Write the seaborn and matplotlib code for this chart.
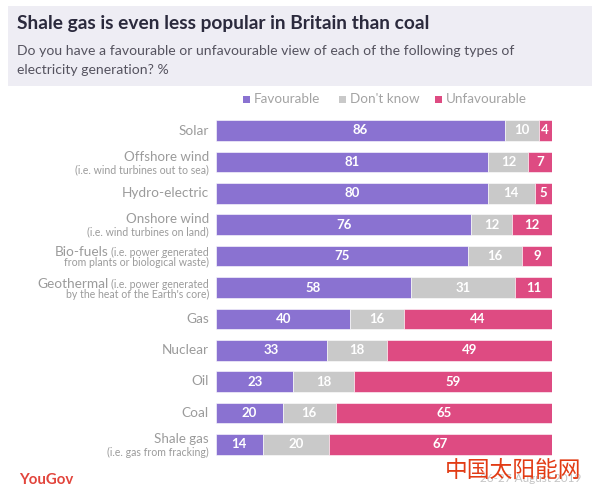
import numpy as np
import pandas as pd
import seaborn as sns
import matplotlib.pyplot as plt
from matplotlib.patches import Rectangle

types = ['Solar', 'Offshore wind', 'Hydro-electric', 'Onshore wind', 'Bio-fuels', 'Geothermal',
         'Gas', 'Nuclear', 'Oil', 'Coal', 'Shale gas']
favourable = [86, 81, 80, 76, 75, 58, 40, 33, 23, 20, 14]
dont_know = [10, 12, 14, 12, 16, 31, 16, 18, 18, 16, 20]
unfavourable = [4, 7, 5, 12, 9, 11, 44, 49, 59, 65, 67]

series_names = ['Favourable', "Don't know", 'Unfavourable']
series_colors = ['#8a72d1', '#c9c9c9', '#de4b82']

title = 'Shale gas is even less popular in Britain than coal'
subtitle = ['Do you have a favourable or unfavourable view of each of the following types of',
            'electricity generation? %']

sns.set_theme(style='white')
plt.rcParams['font.family'] = ['Lato', 'DejaVu Sans']

W, H = 600, 501
fig = plt.figure(figsize=(6, 5.01), dpi=100)
ax = fig.add_axes([216 / W, 1 - 460.2 / H, 336 / W, 345.4 / H])


def px(x, y):
    return x / W, 1 - y / H


df = pd.DataFrame({'type': types, 'Favourable': favourable, "Don't know": dont_know, 'Unfavourable': unfavourable})
# rounded figures do not always add to 100, bars still fill the width
totals = df[series_names].sum(axis=1)
left = np.zeros(len(df))
for name, col in zip(series_names, series_colors):
    share = df[name] / totals * 100
    sns.barplot(x=share.values, y=df['type'], color=col, saturation=1, width=0.65,
                left=left, orient='h', ax=ax, edgecolor='white', linewidth=0.4)
    ax.bar_label(ax.containers[-1], labels=[str(v) for v in df[name]], label_type='center',
                 color='white', fontweight='bold', fontsize=9.5)
    left = left + share.values

ax.set_xlim(0, 100)
ax.set_xlabel('')
ax.set_ylabel('')
ax.set_yticklabels([])
ax.tick_params(left=False, bottom=False, labelbottom=False)
sns.despine(ax=ax, left=True, bottom=True)

# header
x0, y0 = px(8, 86)
fig.add_artist(Rectangle((x0, y0), 584 / W, 80 / H, transform=fig.transFigure, color='#eeedf4', lw=0, zorder=-1))
fig.text(*px(17, 24), title, fontsize=13.8, fontweight='bold', color='#2b2a3d', va='center')
fig.text(*px(17, 51), subtitle[0], fontsize=10.05, color='#55535f', va='center')
fig.text(*px(17, 70), subtitle[1], fontsize=10.05, color='#55535f', va='center')

# legend
for x_sq, x_txt, name, col in zip([243, 339, 435], [254, 350, 446], series_names, series_colors):
    sx, sy = px(x_sq, 103)
    fig.add_artist(Rectangle((sx, sy), 7 / W, 7 / H, transform=fig.transFigure, color=col, lw=0))
    fig.text(*px(x_txt, 99), name, fontsize=9.7, color='#a3a3a3', va='center')

# row labels
label_col = '#9b9b9b'
for name, y in zip(['Solar', 'Hydro-electric', 'Gas', 'Nuclear', 'Oil', 'Coal'], [131, 193, 319, 350, 381, 413]):
    fig.text(*px(209, y), name, fontsize=9.8, color=label_col, ha='right', va='center')
for name, sub, y in [('Offshore wind', '(i.e. wind turbines out to sea)', 157),
                     ('Onshore wind', '(i.e. wind turbines on land)', 219),
                     ('Shale gas', '(i.e. gas from fracking)', 439)]:
    fig.text(*px(209, y), name, fontsize=9.6, color=label_col, ha='right', va='center')
    fig.text(*px(209, y + 13), sub, fontsize=7.6, color=label_col, ha='right', va='center')
for name, sub1, sub2, y in [('Bio-fuels', '(i.e. power generated', 'from plants or biological waste)', 252),
                            ('Geothermal', '(i.e. power generated', "by the heat of the Earth's core)", 284)]:
    t = fig.text(*px(209, y), sub1, fontsize=7.6, color=label_col, ha='right', va='center')
    fig.canvas.draw()
    ext = t.get_window_extent()
    fig.text(*px(ext.x0 - 3, y), name, fontsize=9.8, color=label_col, ha='right', va='center')
    fig.text(*px(209, y + 10), sub2, fontsize=7.6, color=label_col, ha='right', va='center')

# footer
fig.text(*px(19, 480), 'YouGov', fontsize=10.8, fontweight='bold', color='#e2453c', va='center')
fig.text(*px(581, 479), '26-27 August 2019', fontsize=8.5, color='#c4c4c4', ha='right', va='center')
fig.text(*px(445, 470), '中国太阳能网', fontsize=16.4, color='#e23b14', va='center',
         family=['Noto Sans CJK SC', 'DejaVu Sans'])

fig.savefig('out.png', dpi=100)
